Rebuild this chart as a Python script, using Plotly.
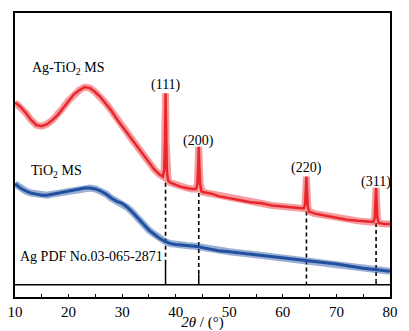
import plotly.graph_objects as go

# ---- data (intensity in arbitrary units) ----
red_x = [10, 11, 12, 13, 14, 15, 16, 17, 18, 19, 20, 21, 22, 23, 24, 25, 26, 27, 28, 29, 30,
         31, 32, 33, 34, 35, 36, 37, 37.6, 37.85, 38.0, 38.1, 38.2, 38.35, 38.6, 39, 40, 41, 42, 43,
         43.8, 44.05, 44.2, 44.3, 44.4, 44.55, 44.8, 45, 46, 47, 48, 50, 52, 54, 56, 58, 60, 62,
         63.9, 64.15, 64.3, 64.4, 64.5, 64.65, 64.9, 66, 68, 70, 72, 74, 76, 76.9, 77.15, 77.3,
         77.4, 77.5, 77.65, 77.9, 79, 80]
red_y = [189, 185, 179, 172, 167, 166, 168, 172, 177, 184, 191, 197, 201, 204, 203, 199, 194, 188, 181, 173, 166,
         159, 152, 145, 137, 130, 124, 119, 117, 124, 150, 198, 150, 122, 113, 111, 109, 107, 106, 105,
         105, 110, 128, 146, 128, 110, 103, 102, 101, 100, 98, 96, 94, 92, 91, 89, 88, 87,
         86, 90, 104, 117, 104, 88, 83, 81, 79, 77, 75, 74, 73, 73, 77, 94,
         106, 94, 77, 72, 71, 71]

blue_x = [10, 11, 12, 13, 14, 15, 16, 17, 18, 19, 20, 21, 22, 23, 24, 25, 26, 27, 28, 29, 30,
          31, 32, 33, 34, 35, 36, 37, 38, 39, 40, 42, 44, 46, 48, 50, 55, 60, 65, 70, 75, 80]
blue_y = [110, 106, 103, 101, 100, 99, 99, 100, 101, 102, 103, 104, 105, 106, 106, 105, 103, 100, 96, 93, 91,
          87, 82, 76, 70, 65, 61, 57, 54, 52, 51, 50, 49, 47, 45, 44, 41, 38, 35, 32, 28, 25]

pdf_pos = [38.1, 44.3, 64.4, 77.4]
pdf_top = [34, 22, 15, 16]
pdf_base = 12
dash_top = [111, 101, 83, 72]
peak_labels = ["(111)", "(200)", "(220)", "(311)"]
label_y = [206, 152, 125, 112]

x_ticks = [10, 20, 30, 40, 50, 60, 70, 80]

RED = "#e8262b"
BLUE = "#2150a0"
FONT = "Liberation Serif, Times New Roman, serif"

fig = go.Figure()

# dashed guide lines from peaks to reference sticks
dx, dy = [], []
for p, t, b in zip(pdf_pos, dash_top, pdf_top):
    dx += [p, p, None]
    dy += [t, b, None]
fig.add_trace(go.Scatter(x=dx, y=dy, mode="lines",
                         line=dict(color="black", width=1.6, dash="4px,3px"),
                         hoverinfo="skip", showlegend=False))

# each pattern: a faint wide band (noise envelope) plus a solid core line
for xs, ys, col, w in [(blue_x, blue_y, BLUE, 3), (red_x, red_y, RED, 2.5)]:
    fig.add_trace(go.Scatter(x=xs, y=ys, mode="lines", opacity=0.45,
                             line=dict(color=col, width=7), hoverinfo="skip", showlegend=False))
    fig.add_trace(go.Scatter(x=xs, y=ys, mode="lines",
                             line=dict(color=col, width=w), showlegend=False))

# reference sticks + baseline
sx, sy = [], []
for p, t in zip(pdf_pos, pdf_top):
    sx += [p, p, None]
    sy += [pdf_base, t, None]
fig.add_trace(go.Scatter(x=sx, y=sy, mode="lines",
                         line=dict(color="black", width=1.5), showlegend=False))
fig.add_trace(go.Scatter(x=[x_ticks[0], x_ticks[-1]], y=[pdf_base, pdf_base], mode="lines",
                         line=dict(color="black", width=1.5), showlegend=False))

ann = []
for p, lab, ly in zip(pdf_pos, peak_labels, label_y):
    ann.append(dict(x=p, y=ly, text=lab, showarrow=False, xanchor="center", yanchor="middle",
                    font=dict(family=FONT, size=14, color="black")))
ann.append(dict(x=19.8, y=222, text="Ag-TiO<sub>2</sub> MS", showarrow=False,
                xanchor="center", yanchor="middle", font=dict(family=FONT, size=14, color="black")))
ann.append(dict(x=17.8, y=122, text="TiO<sub>2</sub> MS", showarrow=False,
                xanchor="center", yanchor="middle", font=dict(family=FONT, size=14, color="black")))
ann.append(dict(x=10.5, y=39, text="Ag PDF No.03-065-2871", showarrow=False,
                xanchor="left", yanchor="middle", font=dict(family=FONT, size=14, color="black")))

# page body has an 8px default margin, so the figure is sized to fit the window
fig.update_layout(
    width=401, height=323,
    margin=dict(l=7, r=19, t=5, b=34, autoexpand=False),
    paper_bgcolor="white", plot_bgcolor="white",
    annotations=ann,
    xaxis=dict(range=[10, 80], tickvals=x_ticks, ticks="inside", ticklen=3, tickwidth=1,
               tickcolor="black", showgrid=False, zeroline=False, showline=True,
               linecolor="black", linewidth=1.5, mirror=True, automargin=False,
               ticklabeloverflow="allow",
               minor=dict(ticks="inside", ticklen=3, dtick=5, tickcolor="black", tickwidth=1),
               tickfont=dict(family=FONT, size=15, color="black"),
               title=dict(text="<i>2θ</i> / (°)", font=dict(family=FONT, size=15, color="black"),
                          standoff=0)),
    yaxis=dict(range=[0, 276], showticklabels=False, ticks="", showgrid=False, zeroline=False,
               automargin=False,
               showline=True, linecolor="black", linewidth=1.5, mirror=True),
)

fig.write_html("out.html")
